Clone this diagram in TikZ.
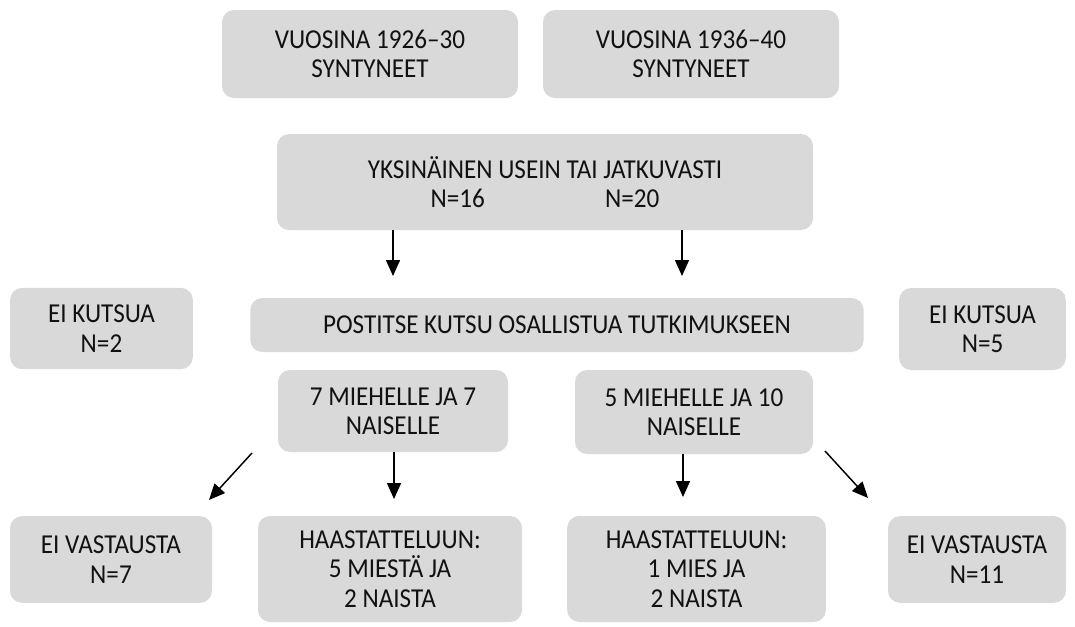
\documentclass[tikz,border=0pt]{standalone}
\usepackage{fontspec}
\setmainfont{Carlito}[FakeStretch=0.92]
\definecolor{boxgray}{HTML}{D9D9D9}
\definecolor{txt}{HTML}{111111}
\tikzset{
  box/.style={fill=boxgray,rounded corners=9pt,align=center,inner sep=0pt,
    text=txt,font=\fontsize{20.5}{22}\selectfont},
  arr/.style={-{Triangle[length=12pt,width=10.5pt]},line width=1.1pt}
}
\usetikzlibrary{arrows.meta}
\begin{document}
\begin{tikzpicture}[x=0.75pt,y=-0.75pt]
\useasboundingbox (0,0) rectangle (1075,626);
% top row
\node[box,minimum width=222pt,minimum height=66pt] (y26) at (370,54) {VUOSINA 1926--30\\SYNTYNEET};
\node[box,minimum width=222pt,minimum height=66pt] (y36) at (691,54) {VUOSINA 1936--40\\SYNTYNEET};
\node[box,minimum width=402pt,minimum height=72pt] (lonely) at (545,182)
  {YKSINÄINEN USEIN TAI JATKUVASTI\\\makebox[0pt]{N=16}\hspace{131pt}\makebox[0pt]{N=20}};
% invitations
\node[box,minimum width=137pt,minimum height=61pt] (noinv1) at (101.5,328.5) {EI KUTSUA\\N=2};
\node[box,minimum width=460pt,minimum height=40.5pt] (post) at (557,325) {POSTITSE KUTSU OSALLISTUA TUTKIMUKSEEN};
\node[box,minimum width=125pt,minimum height=61.5pt] (noinv2) at (982.5,329) {EI KUTSUA\\N=5};
\node[box,minimum width=172.5pt,minimum height=61.5pt] (inv1) at (393,411) {7 MIEHELLE JA 7\\NAISELLE};
\node[box,minimum width=178.5pt,minimum height=63pt] (inv2) at (694,412) {5 MIEHELLE JA 10\\NAISELLE};
% answers
\node[box,minimum width=151.5pt,minimum height=65pt] (noans1) at (111,559.5) {EI VASTAUSTA\\N=7};
\node[box,minimum width=198pt,minimum height=79.5pt] (int1) at (390,569) {HAASTATTELUUN:\\5 MIESTÄ JA\\2 NAISTA};
\node[box,minimum width=194pt,minimum height=79.5pt] (int2) at (696.5,569) {HAASTATTELUUN:\\1 MIES JA\\2 NAISTA};
\node[box,minimum width=133.5pt,minimum height=65pt] (noans2) at (977,559.5) {EI VASTAUSTA\\N=11};
% arrows
\coordinate (e1) at (393,276);
\coordinate (e2) at (682,276);
\coordinate (e3) at (394,499);
\coordinate (e4) at (683,497);
\coordinate (s5) at (252,453);
\coordinate (e5) at (209,500);
\coordinate (s6) at (825,451);
\coordinate (e6) at (868,498);
\draw[arr] (lonely.south -| e1) -- (e1);
\draw[arr] (lonely.south -| e2) -- (e2);
\draw[arr] (inv1.south -| e3) -- (e3);
\draw[arr] (inv2.south -| e4) -- (e4);
\draw[arr] (s5) -- (e5);
\draw[arr] (s6) -- (e6);
\end{tikzpicture}
\end{document}
